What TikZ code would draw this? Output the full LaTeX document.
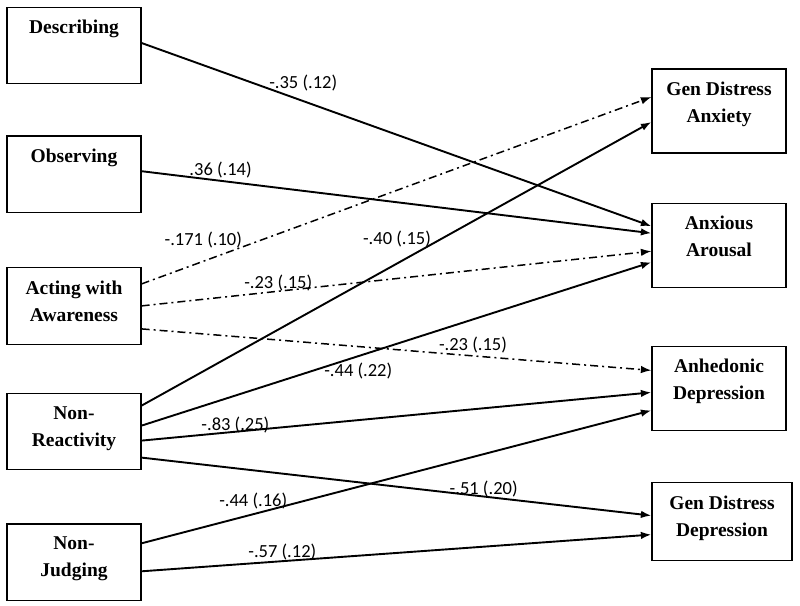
\documentclass[tikz,border=0pt]{standalone}
\usepackage{fontspec}
\setmainfont{Liberation Serif}
\newfontfamily\coeffont{Carlito}
\usepackage{tikz}
\usetikzlibrary{arrows.meta,positioning,calc}

\begin{document}
\begin{tikzpicture}[
    x=1pt, y=-1pt,
    facet/.style={rectangle, draw, line width=1.2pt, minimum width=134pt, minimum height=76.5pt, inner sep=0pt},
    outcome/.style={rectangle, draw, line width=1.2pt, minimum width=134pt, minimum height=84pt, inner sep=0pt},
    boxtext/.style={font=\fontsize{19.5}{27}\selectfont\bfseries, align=center, inner sep=0pt, anchor=north, yshift=-13.3pt},
    coef/.style={font=\coeffont\fontsize{18.5}{20}\selectfont, inner sep=0pt},
    arrow/.style={-{Latex[length=10.5pt,width=7.5pt]}, line width=1.9pt},
    dotarrow/.style={arrow, line width=1.5pt, dash pattern=on 8pt off 4pt on 2pt off 4pt}
]
\useasboundingbox (0,0) rectangle (800,605);

\node[facet, label={[boxtext]north:Describing}] (desc) at (74,45.5) {};
\node[facet, below=51pt of desc, label={[boxtext]north:Observing}] (obs) {};
\node[facet, below=54pt of obs, label={[boxtext]north:{Acting with\\Awareness}}] (act) {};
\node[facet, below=48pt of act, label={[boxtext]north:{Non-\\Reactivity}}] (nonreact) {};
\node[facet, below=53pt of nonreact, label={[boxtext]north:{Non-\\Judging}}] (nonjudge) {};

\node[outcome, label={[boxtext]north:{Gen Distress\\Anxiety}}] (gda) at (719,111) {};
\node[outcome, below=49pt of gda, label={[boxtext]north:{Anxious\\Arousal}}] (aa) {};
\node[outcome, below=58pt of aa, label={[boxtext]north:{Anhedonic\\Depression}}] (anh) {};
\node[outcome, minimum width=140pt, minimum height=78pt, below=51pt of anh, xshift=3pt, label={[boxtext]north:{Gen Distress\\Depression}}] (gdd) {};

\draw[arrow] ($(desc.east)+(0,-2.5)$) -- node[coef, pos=0.317, yshift=17.7pt] {-.35 (.12)} ($(aa.west)+(0,-19)$);
\draw[arrow] ($(obs.east)+(0,-3)$) -- node[coef, pos=0.155, yshift=10.9pt] {.36 (.14)} ($(aa.west)+(0,-12)$);
\draw[dotarrow] ($(act.east)+(0,-22)$) -- node[coef, pos=0.121, yshift=21.6pt] {-.171 (.10)} ($(gda.west)+(0,-14)$);
\draw[dotarrow] (act.east) -- node[coef, pos=0.268, yshift=8.3pt] {-.23 (.15)} ($(aa.west)+(0,6)$);
\draw[dotarrow] ($(act.east)+(0,23)$) -- node[coef, pos=0.65, yshift=11pt] {-.23 (.15)} ($(anh.west)+(0,-18)$);
\draw[arrow] ($(nonreact.east)+(0,-26)$) -- node[coef, pos=0.501, yshift=24.2pt] {-.40 (.15)} ($(gda.west)+(0,11)$);
\draw[arrow] ($(nonreact.east)+(0,-6)$) -- node[coef, pos=0.425, yshift=-14.8pt] {-.44 (.22)} ($(aa.west)+(0,17)$);
\draw[arrow] ($(nonreact.east)+(0,9)$) -- node[coef, pos=0.184, yshift=7.2pt] {-.83 (.25)} ($(anh.west)+(0,4)$);
\draw[arrow] ($(nonreact.east)+(0,26)$) -- node[coef, pos=0.671, yshift=7.3pt] {-.51 (.20)} ($(gdd.west)+(0,-6)$);
\draw[arrow] ($(nonjudge.east)+(0,-19)$) -- node[coef, pos=0.219, yshift=13.3pt] {-.44 (.16)} ($(anh.west)+(0,22)$);
\draw[arrow] ($(nonjudge.east)+(0,9)$) -- node[coef, pos=0.276, yshift=9.1pt] {-.57 (.12)} ($(gdd.west)+(0,13)$);

\end{tikzpicture}
\end{document}
